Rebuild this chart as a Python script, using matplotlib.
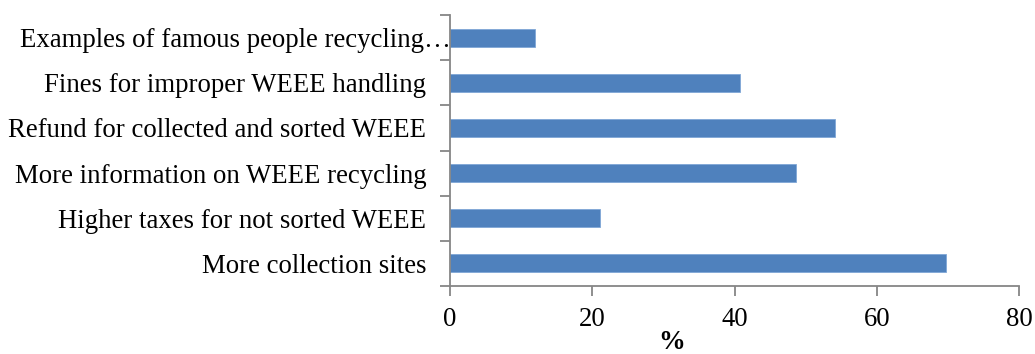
import matplotlib
matplotlib.use("Agg")
import matplotlib.pyplot as plt
import matplotlib.transforms as mtransforms
import numpy as np

categories = ["More collection sites",
              "Higher taxes for not sorted WEEE",
              "More information on WEEE recycling",
              "Refund for collected and sorted WEEE",
              "Fines for improper WEEE handling",
              "Examples of famous people recycling\u2026"]
values = [69.8, 21.1, 48.7, 54.1, 40.8, 12.0]
xticks = [0, 20, 40, 60, 80]

plt.rcParams['font.family'] = ['Liberation Serif', 'DejaVu Serif']

fig = plt.figure(figsize=(10.35, 3.54), dpi=100)
ax = fig.add_axes([450 / 1035, 1 - 286 / 354, (1019 - 450) / 1035, (286 - 15) / 354])

y = np.arange(len(categories))
ax.barh(y, values, height=0.4, color='#4F81BD', edgecolor='#7FA6D6', linewidth=0.6)

ax.set_xlim(0, 80)
ax.set_ylim(-0.5, len(categories) - 0.5)
ax.set_xticks(xticks)
ax.set_xticklabels([str(t) for t in xticks], fontsize=19.3)
ax.set_yticks(y)
ax.set_yticklabels(categories, fontsize=19.3)
ax.set_yticks(np.arange(len(categories) + 1) - 0.5, minor=True)
ax.tick_params(axis='y', which='major', length=0, pad=17)
ax.tick_params(axis='y', which='minor', length=7, width=1.3, color='#868686', direction='out')
ax.tick_params(axis='x', which='major', length=7, width=1.3, color='#868686', direction='out', pad=8)

# the truncated label runs up to the axis line in the reference
lab = ax.get_yticklabels()[-1]
lab.set_transform(lab.get_transform() + mtransforms.ScaledTranslation(24 / 100, 0, fig.dpi_scale_trans))

for s in ['top', 'right']:
    ax.spines[s].set_visible(False)
for s in ['left', 'bottom']:
    ax.spines[s].set_color('#868686')
    ax.spines[s].set_linewidth(1.3)

fig.text(672 / 1035, 1 - 349 / 354, '%', fontsize=19.3, fontweight='bold',
         ha='center', va='baseline')

fig.savefig('out.png', dpi=100)
